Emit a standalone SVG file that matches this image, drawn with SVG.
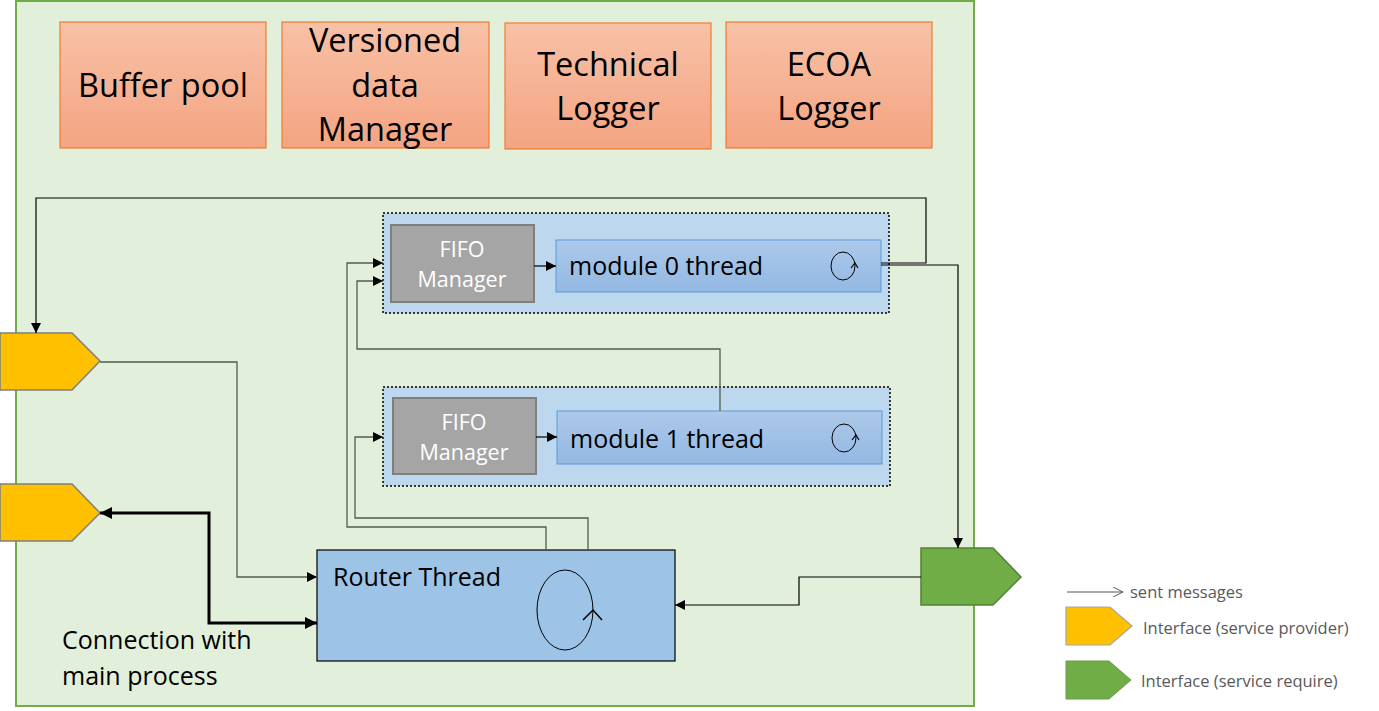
<svg xmlns="http://www.w3.org/2000/svg" width="1379" height="711" viewBox="0 0 1379 711">
<defs>
<linearGradient id="og" x1="0" y1="0" x2="0" y2="1"><stop offset="0" stop-color="#F8C1A6"/><stop offset="1" stop-color="#F4A482"/></linearGradient>
<linearGradient id="bg" x1="0" y1="0" x2="0" y2="1"><stop offset="0" stop-color="#ADC9EA"/><stop offset="1" stop-color="#93B8E3"/></linearGradient>
<marker id="ah" viewBox="0 0 10 10" refX="10" refY="5" markerWidth="10" markerHeight="10" markerUnits="userSpaceOnUse" orient="auto"><path d="M0,0 L10,5 L0,10 Z" fill="#000"/></marker>
<marker id="ahb" viewBox="0 0 10 10" refX="10" refY="5" markerWidth="12" markerHeight="12" markerUnits="userSpaceOnUse" orient="auto-start-reverse"><path d="M0,0 L10,5 L0,10 Z" fill="#000"/></marker>
<marker id="ao" viewBox="0 0 10 10" refX="10" refY="5" markerWidth="10" markerHeight="10" markerUnits="userSpaceOnUse" orient="auto"><path d="M0,0 L10,5 L0,10" fill="none" stroke="#595959" stroke-width="1"/></marker>
</defs>
<style>
.t{font-family:"Open Sans","Noto Sans",sans-serif;}
.big{font-size:32.5px;fill:#000;text-anchor:middle;}
.orange{fill:url(#og);stroke:#ED7D31;stroke-width:1.2;}
.cont{fill:#BDD7EE;stroke:#000;stroke-width:1.5;stroke-dasharray:2 2;}
.fifo{fill:#A5A5A5;stroke:#7F7F7F;stroke-width:2;}
.fifot{font-size:21.5px;fill:#fff;text-anchor:middle;}
.mod{fill:url(#bg);stroke:#5B9BD5;stroke-width:1;}
.modt{font-size:25px;fill:#000;}
.c{fill:none;stroke:#000;stroke-width:1.2;}
.g{fill:none;stroke:#4f5f4a;stroke-width:1.3;}
.leg{font-size:16.5px;fill:#595959;}
</style>
<rect x="16" y="1" width="958" height="705" fill="#E2EFDA" stroke="#70AD47" stroke-width="2"/>

<g id="buffer-pool"><rect class="orange" x="60" y="22" width="206" height="126"/><text class="t big" x="163" y="97">Buffer pool</text></g>
<g id="versioned-data-manager"><rect class="orange" x="282" y="22" width="207" height="126"/><text class="t big" x="385" y="52">Versioned</text><text class="t big" x="385" y="97">data</text><text class="t big" x="385" y="141">Manager</text></g>
<g id="technical-logger"><rect class="orange" x="505" y="23" width="206" height="126"/><text class="t big" x="608" y="76">Technical</text><text class="t big" x="608" y="120">Logger</text></g>
<g id="ecoa-logger"><rect class="orange" x="726" y="22" width="206" height="126"/><text class="t big" x="829" y="76">ECOA</text><text class="t big" x="829" y="120">Logger</text></g>

<g id="module0">
<rect class="cont" x="383" y="213" width="506" height="100"/>
<rect class="fifo" x="391" y="225" width="143" height="77"/>
<text class="t fifot" x="462" y="257">FIFO</text><text class="t fifot" x="462" y="287">Manager</text>
<rect class="mod" x="556" y="240" width="325" height="52"/>
<text class="t modt" x="569" y="275">module 0 thread</text>
<ellipse cx="843" cy="266" rx="12" ry="14" fill="none" stroke="#000" stroke-width="1"/>
<path d="M851,268 L855,263 L858,268" fill="none" stroke="#000" stroke-width="1.2"/>
</g>

<g id="module1">
<rect class="cont" x="383" y="387" width="507" height="99"/>
<rect class="fifo" x="393" y="398" width="143" height="76"/>
<text class="t fifot" x="464" y="430">FIFO</text><text class="t fifot" x="464" y="460">Manager</text>
<rect class="mod" x="557" y="411" width="325" height="53"/>
<text class="t modt" x="570" y="448">module 1 thread</text>
<ellipse cx="844" cy="438" rx="12" ry="14" fill="none" stroke="#000" stroke-width="1"/>
<path d="M852,440 L856,435 L859,440" fill="none" stroke="#000" stroke-width="1.2"/>
</g>

<g id="router-thread">
<rect x="317" y="550" width="358" height="111" fill="#9DC3E6" stroke="#000" stroke-width="1.2"/>
<text class="t modt" x="333" y="586">Router Thread</text>
<ellipse cx="565" cy="610" rx="28" ry="40" fill="none" stroke="#000" stroke-width="1"/>
<path d="M583,620 L593,610 L602,620" fill="none" stroke="#000" stroke-width="1.5"/>
</g>

<g id="provider-interface-1"><path d="M0,333 L72,333 L100,361 L72,390 L0,390 Z" fill="#FFC000" stroke="#7F7F7F" stroke-width="1.5"/></g>
<g id="provider-interface-2"><path d="M0,484 L72,484 L100,513 L72,541 L0,541 Z" fill="#FFC000" stroke="#7F7F7F" stroke-width="1.5"/></g>
<g id="require-interface"><path d="M921,548 L993,548 L1021,577 L993,605 L921,605 Z" fill="#70AD47" stroke="#548235" stroke-width="1.5"/></g>

<text class="t modt" x="62" y="649">Connection with</text>
<text class="t modt" x="62" y="685">main process</text>

<g id="connectors">
<path class="c" d="M534,266 L556,266" marker-end="url(#ah)"/>
<path class="c" d="M536,437 L557,437" marker-end="url(#ah)"/>
<path class="c" d="M881,263 L926,263 L926,198 L36,198 L36,333" marker-end="url(#ah)"/>
<path class="c" d="M881,265 L958,265 L958,548" marker-end="url(#ah)"/>
<path class="g" d="M720,411 L720,349 L357,349 L357,281 L383,281" marker-end="url(#ah)"/>
<path class="g" d="M546,550 L546,527 L347,527 L347,263 L383,263" marker-end="url(#ah)"/>
<path class="g" d="M588,550 L588,518 L355,518 L355,437 L383,437" marker-end="url(#ah)"/>
<path class="g" d="M100,362 L237,362 L237,577 L317,577" marker-end="url(#ah)"/>
<path class="c" d="M921,577 L799,577 L799,605 L675,605" marker-end="url(#ah)"/>
<path fill="none" stroke="#000" stroke-width="3" d="M100,513 L209,513 L209,623 L317,623" marker-start="url(#ahb)" marker-end="url(#ahb)"/>
</g>

<g id="legend">
<path d="M1067,592 L1123,592" fill="none" stroke="#595959" stroke-width="1" marker-end="url(#ao)"/>
<text class="t leg" x="1130" y="598">sent messages</text>
<path d="M1066,607 L1110,607 L1132,626 L1110,645 L1066,645 Z" fill="#FFC000" stroke="#A5A5A5" stroke-width="1.2"/>
<text class="t leg" x="1143" y="634">Interface (service provider)</text>
<path d="M1066,661 L1109,661 L1131,680 L1109,699 L1066,699 Z" fill="#70AD47" stroke="#6a9e45" stroke-width="1"/>
<text class="t leg" x="1141" y="687">Interface (service require)</text>
</g>
</svg>
